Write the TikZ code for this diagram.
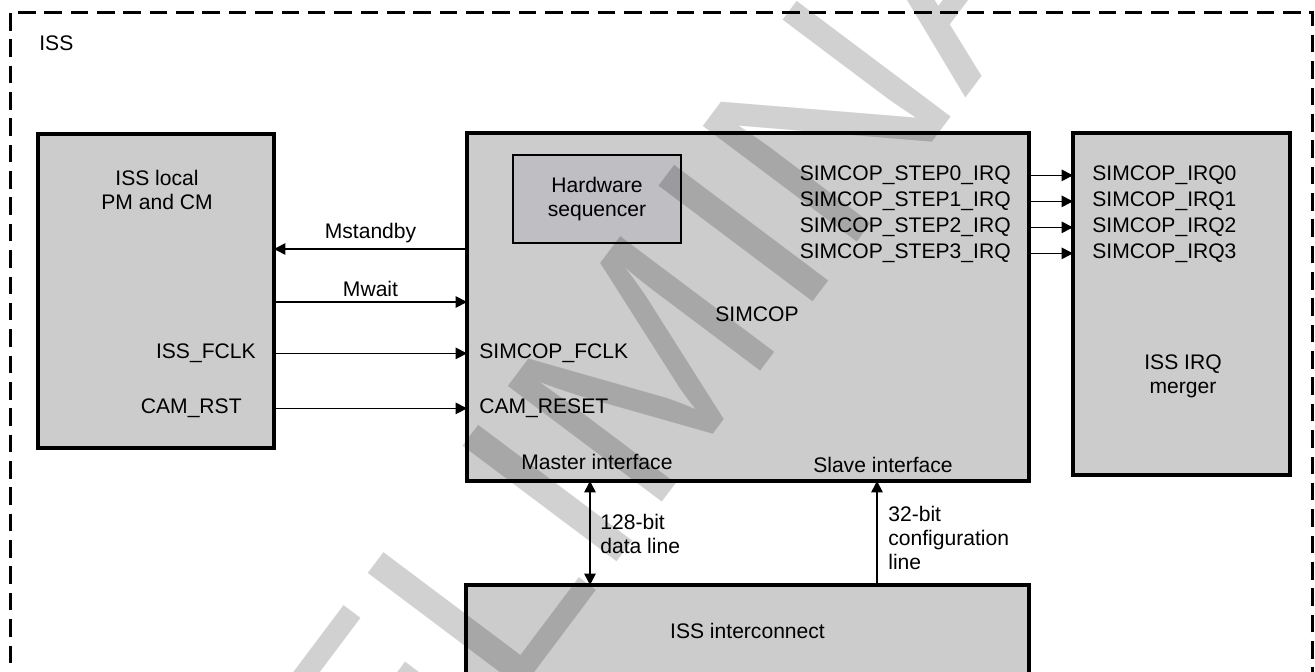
\documentclass[tikz,border=0pt]{standalone}
\usepackage{fontspec}
\setmainfont{Liberation Sans}
\usepackage{xcolor}
\usepackage{tikz}
\usetikzlibrary{positioning, arrows.meta}

\definecolor{boxgray}{RGB}{204,204,204}
\definecolor{seqgray}{RGB}{190,190,195}

\begin{document}
\begin{tikzpicture}[x=0.02cm, y=-0.02cm,
    font=\fontsize{12}{13.7}\selectfont,
    block/.style={draw, line width=1.9pt, fill=boxgray, inner sep=0pt, outer sep=0pt},
    sig/.style={line width=0.85pt, -{Triangle[length=6.5pt,width=6.5pt]}},
    lbl/.style={inner sep=0pt}]
       \useasboundingbox (0,0) rectangle (1315,672);

       \node[draw, line width=1.7pt, dash pattern=on 10pt off 5pt, inner sep=0pt,
             minimum width=26.06cm, minimum height=13.76cm] (iss) at (661.5,356) {};
       \node[lbl, anchor=mid west] (isslbl) at (39,46) {ISS};

       \node[block, minimum width=4.72cm, minimum height=6.28cm] (pmcm) at (156,291) {};
       \node[block, minimum width=11.24cm, minimum height=6.96cm] (simcop) at (748,307) {};
       \node[block, minimum width=4.34cm, minimum height=6.84cm] (merger) at (1181.5,304) {};
       \node[block, minimum width=11.26cm, minimum height=1.82cm] (icon) at (747.5,630.5) {ISS interconnect};
       \node[draw, line width=1.1pt, fill=seqgray, align=center, inner sep=0pt,
             minimum width=3.36cm, minimum height=1.76cm] (hwseq) at (597,199) {Hardware\\sequencer};

       \node[lbl, align=center] (pmcmlbl) at (157,190) {ISS local\\PM and CM};
       \node[lbl, align=center] (mergerlbl) at (1183,376) {ISS IRQ\\merger};
       \node[lbl] (simcoplbl) at (757,314) {SIMCOP};

       \node[lbl, anchor=mid east] (fclk) at (256,354) {ISS\_FCLK};
       \node[lbl, anchor=mid east] (rst) at (242,409) {CAM\_RST};
       \node[lbl, anchor=mid west] (sfclk) at (479,354) {SIMCOP\_FCLK};
       \node[lbl, anchor=mid west] (sreset) at (479,409) {CAM\_RESET};

       \node[lbl, anchor=mid east] (step0) at (1011,176) {SIMCOP\_STEP0\_IRQ};
       \node[lbl, anchor=mid east] (step1) at (1011,202) {SIMCOP\_STEP1\_IRQ};
       \node[lbl, anchor=mid east] (step2) at (1011,228) {SIMCOP\_STEP2\_IRQ};
       \node[lbl, anchor=mid east] (step3) at (1011,254) {SIMCOP\_STEP3\_IRQ};
       \node[lbl, anchor=mid west] (irq0) at (1092,176) {SIMCOP\_IRQ0};
       \node[lbl, anchor=mid west] (irq1) at (1092,202) {SIMCOP\_IRQ1};
       \node[lbl, anchor=mid west] (irq2) at (1092,228) {SIMCOP\_IRQ2};
       \node[lbl, anchor=mid west] (irq3) at (1092,254) {SIMCOP\_IRQ3};

       \node[lbl, anchor=mid west] (master) at (521,465) {Master interface};
       \node[lbl, anchor=mid] (slave) at (883,468) {Slave interface};
       \node[lbl, anchor=west, align=left] (datalbl) at (600,534) {128-bit\\data line};
       \node[lbl, anchor=west, align=left] (cfglbl) at (888,538) {32-bit\\configuration\\line};

       \draw[sig] (simcop.west |- 0,249) -- node[above, inner sep=2.8pt] (mstandby) {Mstandby} (pmcm.east |- 0,249);
       \draw[sig] (pmcm.east |- 0,302) -- node[above, inner sep=2.8pt] (mwait) {Mwait} (simcop.west |- 0,302);

       \path[sig]
       (pmcm.east |- fclk) edge (simcop.west |- fclk)
       (pmcm.east |- rst) edge (simcop.west |- rst)
       (simcop.east |- step0) edge (merger.west |- step0)
       (simcop.east |- step1) edge (merger.west |- step1)
       (simcop.east |- step2) edge (merger.west |- step2)
       (simcop.east |- step3) edge (merger.west |- step3)
       (icon.north -| 877,0) edge (simcop.south -| 877,0);
       \draw[sig, {Triangle[length=6.5pt,width=6.5pt]}-{Triangle[length=6.5pt,width=6.5pt]}]
       (simcop.south -| 590,0) -- (icon.north -| 590,0);

       \node[opacity=0.18, rotate=53.1, anchor=base west, inner sep=0pt,
             font=\fontsize{159.4}{165}\selectfont] (wmark) at (162.4,1167.8) {PRELIM\kern0.05em INARY};
    \end{tikzpicture}
\end{document}
